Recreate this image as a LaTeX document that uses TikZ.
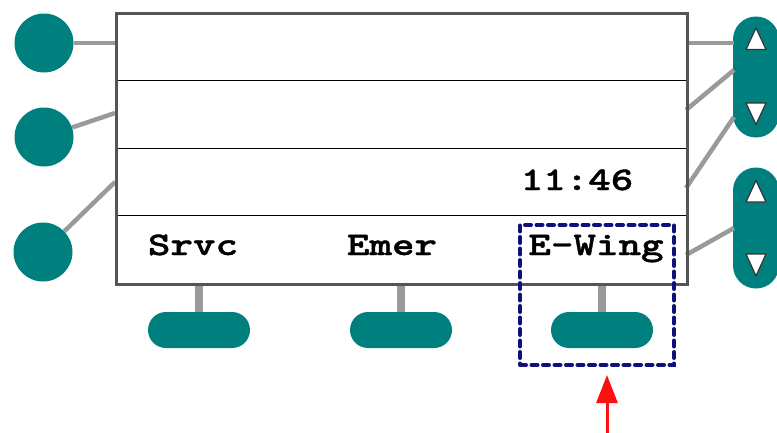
\documentclass[tikz,border=0pt]{standalone}
\usepackage{fontspec}
\newfontfamily\lcdfont{lmmonolt10-bold.otf}[FakeStretch=1.3,FakeBold=1.2]
\usetikzlibrary{arrows.meta,calc}
\definecolor{tealc}{HTML}{007F7F}
\definecolor{wire}{HTML}{9A9A9A}
\definecolor{frame}{HTML}{555555}
\definecolor{navyd}{HTML}{10107A}
\definecolor{redarr}{HTML}{FF1010}
\tikzset{
  softkey/.style={circle,fill=tealc,minimum size=59pt,inner sep=0pt},
  rocker/.style={rectangle,rounded corners=23pt,fill=tealc,minimum width=46pt,minimum height=121pt,inner sep=0pt},
  linekey/.style={rectangle,rounded corners=18pt,fill=tealc,minimum width=102pt,minimum height=36pt,inner sep=0pt},
  row/.style={rectangle,draw=black,line width=1.3pt,minimum width=571pt,inner sep=0pt},
  framebox/.style={draw=frame,line width=2.5pt,inner sep=0pt,minimum width=571pt,minimum height=271pt,anchor=north west},
  wireline/.style={wire,line width=4.5pt},
  stem/.style={wire,line width=8pt},
  tri/.style={fill=white,draw=black!80,line width=1.2pt,line join=round},
  lcd/.style={font=\lcdfont\fontsize{33}{33}\selectfont,inner sep=0pt,anchor=base},
}
\begin{document}
\begin{tikzpicture}[x=1pt,y=-1pt]
\useasboundingbox (0,0) rectangle (777,432);
% display rows
\node[row,minimum height=68pt,anchor=north west] (row1) at (115,12) {};
\node[row,minimum height=68pt,anchor=north west] (row2) at (115,80) {};
\node[row,minimum height=67pt,anchor=north west] (row3) at (115,148) {};
\node[row,minimum height=68pt,anchor=north west] (row4) at (115,215) {};
% left softkeys
\node[softkey] (c1) at (44,43) {};
\node[softkey] (c2) at (44,137) {};
\node[softkey] (c3) at (43,252) {};
% right rockers
\node[rocker] (r1) at (756,77) {};
\node[rocker] (r2) at (756,228) {};
% bottom keys
\node[linekey] (b1) at (199,330) {};
\node[linekey] (b2) at (401,330) {};
\node[linekey] (b3) at (602,330) {};
% connection points
\coordinate (l1) at (115,43);
\coordinate (l2) at (115,113);
\coordinate (l3) at (115,182);
\coordinate (p1) at (686,43);
\coordinate (p2) at (686,110);
\coordinate (p3) at (686,188);
\coordinate (p4) at (686,255);
\coordinate (q1) at (734,43);
\coordinate (q2) at (734,70);
\coordinate (q3) at (734,117);
\coordinate (q4) at (734,228);
\coordinate (s1) at (199,284);
\coordinate (s2) at (401,284);
\coordinate (s3) at (602,284);
\draw[wireline] (c1) -- (l1);
\draw[wireline] (c2) -- (l2);
\draw[wireline] (c3) -- (l3);
\draw[wireline] (p1) -- (q1);
\draw[wireline] (p2) -- (q2);
\draw[wireline] (p3) -- (q3);
\draw[wireline] (p4) -- (q4);
\draw[stem] (s1) -- (b1.north);
\draw[stem] (s2) -- (b2.north);
\draw[stem] (s3) -- (b3.north);
% outer frame
\node[framebox] (disp) at (115,12) {};
% triangles
\draw[tri] (746,49.5) -- (756,28) -- (766,49.5) -- cycle;
\draw[tri] (746,103) -- (756,124.5) -- (766,103) -- cycle;
\draw[tri] (746,202) -- (756,180.5) -- (766,202) -- cycle;
\draw[tri] (746,254) -- (756,276) -- (766,254) -- cycle;
% texts
\node[lcd] (time) at (577,190) {11:46};
\node[lcd] (t1) at (193,255) {Srvc};
\node[lcd] (t2) at (392,255) {Emer};
\node[lcd] (t3) at (596,255) {E-Wing};
% highlight
\node[draw=navyd,line width=4pt,dash pattern=on 6pt off 5.5pt,line cap=round,minimum width=154pt,minimum height=140pt,inner sep=0pt,anchor=north west] (hl) at (518,223) {};
% arrow
\coordinate (abot) at (607,440);
\coordinate (atip) at (607,375);
\draw[redarr,line width=3pt,-{Triangle[width=21pt,length=28pt]}] (abot) -- (atip);
\end{tikzpicture}
\end{document}
